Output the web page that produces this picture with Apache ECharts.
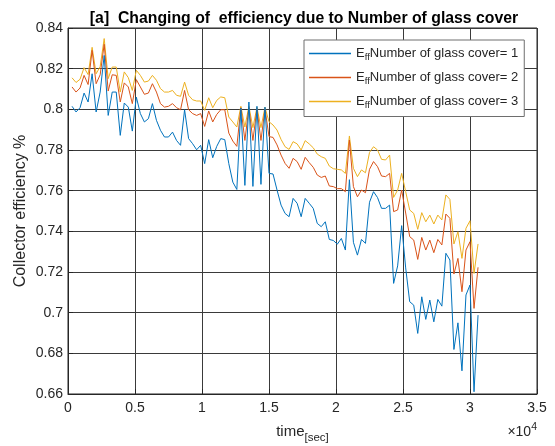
<!DOCTYPE html>
<html>
<head>
<meta charset="utf-8">
<script src="https://cdn.jsdelivr.net/npm/echarts@6/dist/echarts.min.js"></script>
<style>
  html, body { margin: 0; padding: 0; background: #fff; }
  #chart { width: 555px; height: 446px; }
</style>
</head>
<body>
<div id="chart"></div>
<script>
// Sample times in seconds
const timeSec = [
  300, 600, 900, 1200, 1500, 1800, 2100, 2400, 2700, 3000,
  3300, 3600, 3900, 4200, 4500, 4800, 5100, 5400, 5700, 6000,
  6300, 6600, 6900, 7200, 7500, 7800, 8100, 8400, 8700, 9000,
  9300, 9600, 9900, 10200, 10500, 10800, 11100, 11400, 11700, 12000,
  12300, 12600, 12900, 13200, 13500, 13800, 14100, 14400, 14700, 15000,
  15300, 15600, 15900, 16200, 16500, 16800, 17100, 17400, 17700, 18000,
  18300, 18600, 18900, 19200, 19500, 19800, 20100, 20400, 20700, 21000,
  21300, 21600, 21900, 22200, 22500, 22800, 23100, 23400, 23700, 24000,
  24300, 24600, 24900, 25200, 25500, 25800, 26100, 26400, 26700, 27000,
  27300, 27600, 27900, 28200, 28500, 28800, 29100, 29400, 29700, 30000,
  30300, 30600
];

// Collector efficiency, one glass cover
const effCover1 = [
  0.8015, 0.7987, 0.8008, 0.8080, 0.8036, 0.8175, 0.7987, 0.8085, 0.8265, 0.7970,
  0.8085, 0.8085, 0.7872, 0.8031, 0.8011, 0.7893, 0.8060, 0.7979, 0.7938, 0.7954,
  0.8028, 0.7946, 0.7897, 0.7864, 0.7864, 0.7888, 0.7847, 0.7823, 0.7998, 0.7856,
  0.7831, 0.7801, 0.7823, 0.7733, 0.7851, 0.7762, 0.7818, 0.7856, 0.7851, 0.7733,
  0.7642, 0.7606, 0.8006, 0.7626, 0.8036, 0.7621, 0.8015, 0.7631, 0.8011, 0.7685,
  0.7682, 0.7603, 0.7529, 0.7488, 0.7472, 0.7562, 0.7538, 0.7472, 0.7562, 0.7538,
  0.7513, 0.7439, 0.7423, 0.7447, 0.7360, 0.7355, 0.7337, 0.7365, 0.7308, 0.7654,
  0.7346, 0.7283, 0.7360, 0.7341, 0.7543, 0.7595, 0.7566, 0.7513, 0.7513, 0.7529,
  0.7144, 0.7230, 0.7428, 0.7220, 0.7054, 0.7037, 0.6898, 0.7078, 0.6967, 0.7062,
  0.6955, 0.7065, 0.7032, 0.7292, 0.7259, 0.6819, 0.6950, 0.6714, 0.7087, 0.7136,
  0.6611, 0.6988
];

// Collector efficiency, two glass covers
const effCover2 = [
  0.8110, 0.8085, 0.8105, 0.8167, 0.8122, 0.8290, 0.8126, 0.8170, 0.8320, 0.8090,
  0.8170, 0.8167, 0.8036, 0.8130, 0.8110, 0.8028, 0.8146, 0.8110, 0.8074, 0.8080,
  0.8126, 0.8085, 0.8028, 0.8011, 0.8015, 0.8028, 0.8008, 0.7998, 0.8093, 0.7998,
  0.7979, 0.7970, 0.7979, 0.7916, 0.7992, 0.7938, 0.7975, 0.7998, 0.7998, 0.7883,
  0.7844, 0.7818, 0.8008, 0.7847, 0.8008, 0.7847, 0.8003, 0.7847, 0.8003, 0.7866,
  0.7862, 0.7825, 0.7775, 0.7734, 0.7710, 0.7759, 0.7743, 0.7705, 0.7764, 0.7738,
  0.7715, 0.7677, 0.7665, 0.7672, 0.7623, 0.7620, 0.7610, 0.7610, 0.7595, 0.7849,
  0.7620, 0.7570, 0.7603, 0.7590, 0.7705, 0.7743, 0.7718, 0.7672, 0.7669, 0.7685,
  0.7497, 0.7505, 0.7603, 0.7490, 0.7374, 0.7357, 0.7262, 0.7370, 0.7308, 0.7357,
  0.7295, 0.7360, 0.7333, 0.7485, 0.7464, 0.7190, 0.7267, 0.7103, 0.7308, 0.7349,
  0.7021, 0.7223
];

// Collector efficiency, three glass covers
const effCover3 = [
  0.8155, 0.8132, 0.8148, 0.8205, 0.8171, 0.8305, 0.8175, 0.8210, 0.8348, 0.8151,
  0.8208, 0.8208, 0.8085, 0.8184, 0.8156, 0.8093, 0.8192, 0.8167, 0.8134, 0.8139,
  0.8167, 0.8143, 0.8102, 0.8085, 0.8085, 0.8093, 0.8069, 0.8064, 0.8134, 0.8069,
  0.8047, 0.8041, 0.8041, 0.7995, 0.8057, 0.8008, 0.8044, 0.8061, 0.8057, 0.7962,
  0.7938, 0.7913, 0.8015, 0.7913, 0.8015, 0.7910, 0.8010, 0.7910, 0.8010, 0.7939,
  0.7923, 0.7898, 0.7852, 0.7816, 0.7803, 0.7841, 0.7830, 0.7800, 0.7846, 0.7830,
  0.7811, 0.7780, 0.7767, 0.7759, 0.7721, 0.7708, 0.7705, 0.7702, 0.7685, 0.7869,
  0.7710, 0.7669, 0.7702, 0.7688, 0.7788, 0.7816, 0.7800, 0.7754, 0.7751, 0.7775,
  0.7567, 0.7603, 0.7685, 0.7595, 0.7505, 0.7488, 0.7410, 0.7492, 0.7447, 0.7480,
  0.7436, 0.7480, 0.7456, 0.7579, 0.7557, 0.7338, 0.7398, 0.7267, 0.7415, 0.7452,
  0.7193, 0.7338
];

const seriesNames = ['cover1', 'cover2', 'cover3'];
const legendLabels = ['Number of glass cover= 1', 'Number of glass cover= 2', 'Number of glass cover= 3'];
const seriesColors = ['#0072BD', '#D95319', '#EDB120'];

const chartTitle = '[a]  Changing of  efficiency due to Number of glass cover';
const yAxisTitle = 'Collector efficiency %';

const FONT = '"Liberation Sans", Arial, Helvetica, sans-serif';
const TXT = '#262626';

function pairs(t, v) {
  return t.map((x, i) => [x, v[i]]);
}

const allValues = [effCover1, effCover2, effCover3];

const chart = echarts.init(document.getElementById('chart'), null, { renderer: 'canvas' });

chart.setOption({
  animation: false,
  backgroundColor: '#fff',
  textStyle: { fontFamily: FONT },
  title: {
    text: chartTitle,
    left: 299,
    textAlign: 'center',
    top: 6,
    textStyle: { fontFamily: FONT, fontSize: 15.8, fontWeight: 'bold', color: '#000' }
  },
  grid: {
    left: 68, right: 18, top: 28, bottom: 52,
    outerBoundsMode: 'none',
    containLabel: false,
    show: true, borderColor: '#262626', borderWidth: 1, backgroundColor: '#fff'
  },
  legend: {
    orient: 'vertical',
    left: 304,
    top: 40,
    data: seriesNames,
    backgroundColor: '#fff',
    borderColor: '#6e6e6e',
    borderWidth: 1,
    padding: [7, 6, 6, 5],
    itemGap: 8.5,
    itemWidth: 42,
    itemHeight: 1.3,
    icon: 'path://M0,0H42V1.3H0Z',
    formatter: function (name) {
      const i = seriesNames.indexOf(name);
      return '{e|E}{s|ff}{n|' + legendLabels[i] + '}';
    },
    textStyle: {
      fontFamily: FONT,
      color: TXT,
      rich: {
        e: { fontSize: 13, fontFamily: FONT, color: TXT },
        s: { fontSize: 9.5, fontFamily: FONT, color: TXT, padding: [8, 0, 0, 0] },
        n: { fontSize: 13, fontFamily: FONT, color: TXT }
      }
    }
  },
  xAxis: {
    type: 'value',
    min: 0, max: 35000, interval: 5000,
    name: '{t|time}{s|[sec]}',
    nameLocation: 'middle',
    nameGap: 26,
    nameMoveOverlap: false,
    nameTextStyle: {
      rich: {
        t: { fontSize: 15, fontFamily: FONT, color: TXT },
        s: { fontSize: 11.5, fontFamily: FONT, color: TXT, padding: [12, 0, 0, 0] }
      }
    },
    axisLine: { show: true, lineStyle: { color: '#262626', width: 1 } },
    axisTick: { show: true, inside: true, length: 5, lineStyle: { color: '#262626' } },
    axisLabel: {
      color: TXT, fontSize: 14, fontFamily: FONT, margin: 7,
      formatter: function (v) { return String(+(v / 10000).toFixed(1)); }
    },
    splitLine: { show: true, lineStyle: { color: '#3a3a3a', width: 1 } }
  },
  yAxis: {
    type: 'value',
    min: 0.66, max: 0.84, interval: 0.02,
    name: yAxisTitle,
    nameLocation: 'middle',
    nameGap: 39,
    nameMoveOverlap: false,
    nameTextStyle: { fontSize: 16, fontFamily: FONT, color: TXT },
    axisLine: { show: true, lineStyle: { color: '#262626', width: 1 } },
    axisTick: { show: true, inside: true, length: 5, lineStyle: { color: '#262626' } },
    axisLabel: {
      color: TXT, fontSize: 14, fontFamily: FONT, margin: 5,
      formatter: function (v) { return String(+v.toFixed(2)); }
    },
    splitLine: { show: true, lineStyle: { color: '#3a3a3a', width: 1 } }
  },
  graphic: [{
    type: 'text',
    right: 18,
    top: 422,
    style: {
      text: '{a|×10}{p|4}',
      rich: {
        a: { fontSize: 14, fontFamily: FONT, fill: TXT },
        p: { fontSize: 10.5, fontFamily: FONT, fill: TXT, padding: [0, 0, 9, 0] }
      }
    }
  }],
  series: seriesNames.map((n, i) => ({
    name: n,
    type: 'line',
    data: pairs(timeSec, allValues[i]),
    symbol: 'none',
    lineStyle: { color: seriesColors[i], width: 1 },
    itemStyle: { color: seriesColors[i] },
    z: 3 - i
  }))
});
</script>
</body>
</html>
